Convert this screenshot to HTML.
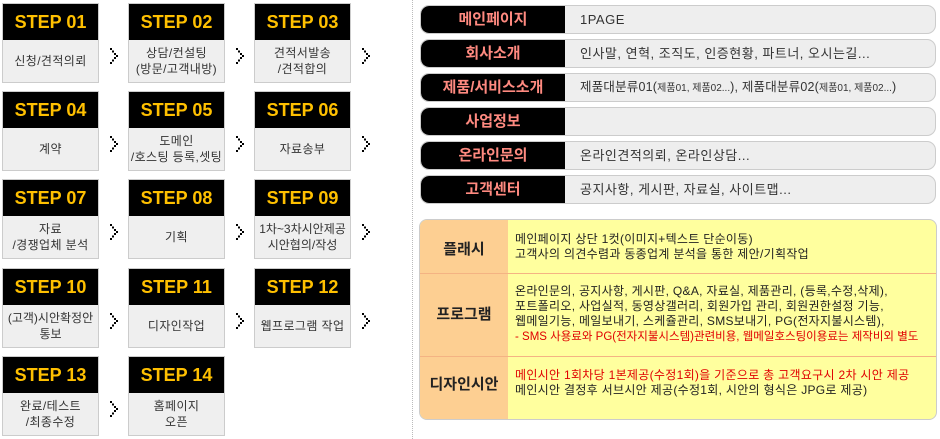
<!DOCTYPE html>
<html><head><meta charset="utf-8"><style>
*{margin:0;padding:0;box-sizing:border-box}
body{width:940px;height:439px;background:#fff;position:relative;overflow:hidden;font-family:"Liberation Sans","Noto Sans CJK KR",sans-serif}
.s{position:absolute;width:97px;height:80px;border:1px solid #ccc;background:#efefef}
.s .h{height:36px;background:#000;color:#ffc000;font-weight:bold;font-size:18px;text-align:center;line-height:36px}
.s .b{height:42px;display:flex;align-items:center;justify-content:center;text-align:center;font-size:12px;color:#333;line-height:16px;letter-spacing:0.4px;white-space:nowrap}
.div{position:absolute;left:412px;top:0;height:439px;border-left:1px dotted #bbb}
.p{position:absolute;left:420px;width:516px;height:29px;border:1px solid #ccc;border-radius:9px;background:#eee;overflow:hidden}
.p .k{position:absolute;left:0;top:0;width:144px;height:100%;background:#000;color:#ff8a80;font-weight:bold;font-size:15px;text-align:center;line-height:27px;border-radius:8px 0 0 8px}
.p .v{position:absolute;left:159px;top:0;line-height:27px;font-size:13px;letter-spacing:0.5px;color:#333;white-space:nowrap}
.p .v small{font-size:10px;letter-spacing:0}
.y{position:absolute;left:419px;top:219px;width:518px;height:201px;border:1px solid #ccc;border-radius:8px;background:#ffff9e;overflow:hidden}
.y .c{position:absolute;left:0;top:0;width:88px;height:100%;background:#fdcf92}
.r{position:absolute;left:0;width:100%;border-bottom:1px solid #f4b383}
.r .k{position:absolute;left:0;width:88px;text-align:center;font-weight:bold;font-size:15px;color:#222}
.r .t{position:absolute;left:95px;font-size:12px;letter-spacing:0.3px;color:#222;line-height:15px;white-space:nowrap}
.red{color:#e00000}
</style></head><body>
<div class="s" style="left:2px;top:3px"><div class="h">STEP 01</div><div class="b">신청/견적의뢰</div></div>
<div class="s" style="left:128px;top:3px"><div class="h">STEP 02</div><div class="b">상담/컨설팅<br>(방문/고객내방)</div></div>
<div class="s" style="left:254px;top:3px"><div class="h">STEP 03</div><div class="b">견적서발송<br>/견적합의</div></div>
<div class="s" style="left:2px;top:91px"><div class="h">STEP 04</div><div class="b">계약</div></div>
<div class="s" style="left:128px;top:91px"><div class="h">STEP 05</div><div class="b">도메인<br>/호스팅 등록,셋팅</div></div>
<div class="s" style="left:254px;top:91px"><div class="h">STEP 06</div><div class="b">자료송부</div></div>
<div class="s" style="left:2px;top:179px"><div class="h">STEP 07</div><div class="b">자료<br>/경쟁업체 분석</div></div>
<div class="s" style="left:128px;top:179px"><div class="h">STEP 08</div><div class="b">기획</div></div>
<div class="s" style="left:254px;top:179px"><div class="h">STEP 09</div><div class="b" style="letter-spacing:0">1차~3차시안제공<br>시안협의/작성</div></div>
<div class="s" style="left:2px;top:268px"><div class="h">STEP 10</div><div class="b" style="letter-spacing:0">(고객)시안확정안<br>통보</div></div>
<div class="s" style="left:128px;top:268px"><div class="h">STEP 11</div><div class="b">디자인작업</div></div>
<div class="s" style="left:254px;top:268px"><div class="h">STEP 12</div><div class="b">웹프로그램 작업</div></div>
<div class="s" style="left:2px;top:356px"><div class="h">STEP 13</div><div class="b">완료/테스트<br>/최종수정</div></div>
<div class="s" style="left:128px;top:356px"><div class="h">STEP 14</div><div class="b">홈페이지<br>오픈</div></div>

<svg width="410" height="439" style="position:absolute;left:0;top:0">
<defs><g id="a" fill="#000"><rect x="0" y="0" width="2" height="2"/><rect x="2" y="2.5" width="2" height="2"/><rect x="4" y="5" width="2" height="2"/><rect x="6" y="7" width="2" height="2"/><rect x="4" y="9" width="2" height="2"/><rect x="2" y="11.5" width="2" height="2"/><rect x="0" y="14" width="2" height="2"/></g></defs>
<use href="#a" x="110" y="48"/><use href="#a" x="236" y="48"/><use href="#a" x="362" y="48"/>
<use href="#a" x="110" y="136"/><use href="#a" x="236" y="136"/><use href="#a" x="362" y="136"/>
<use href="#a" x="110" y="224"/><use href="#a" x="236" y="224"/><use href="#a" x="362" y="224"/>
<use href="#a" x="110" y="313"/><use href="#a" x="236" y="313"/><use href="#a" x="362" y="313"/>
<use href="#a" x="110" y="401"/>
</svg>
<div class="div"></div>

<div class="p" style="top:5px"><div class="k">메인페이지</div><div class="v">1PAGE</div></div>
<div class="p" style="top:39px"><div class="k">회사소개</div><div class="v">인사말, 연혁, 조직도, 인증현황, 파트너, 오시는길...</div></div>
<div class="p" style="top:73px"><div class="k">제품/서비스소개</div><div class="v" style="font-size:12.5px;letter-spacing:0.2px">제품대분류01(<small>제품01, 제품02...</small>), 제품대분류02(<small>제품01, 제품02...</small>)</div></div>
<div class="p" style="top:107px"><div class="k">사업정보</div><div class="v"></div></div>
<div class="p" style="top:141px"><div class="k">온라인문의</div><div class="v">온라인견적의뢰, 온라인상담...</div></div>
<div class="p" style="top:175px"><div class="k">고객센터</div><div class="v">공지사항, 게시판, 자료실, 사이트맵...</div></div>

<div class="y"><div class="c"></div>
<div class="r" style="top:0;height:54px"><div class="k" style="top:18px">플래시</div><div class="t" style="top:12px">메인페이지 상단 1컷(이미지+텍스트 단순이동)<br>고객사의 의견수렴과 동종업계 분석을 통한 제안/기획작업</div></div>
<div class="r" style="top:54px;height:83px"><div class="k" style="top:29px">프로그램</div><div class="t" style="top:10px">온라인문의, 공지사항, 게시판, Q&amp;A, 자료실, 제품관리, (등록,수정,삭제),<br>포트폴리오, 사업실적, 동영상갤러리, 회원가입 관리, 회원권한설정 기능,<br>웹메일기능, 메일보내기, 스케쥴관리, SMS보내기, PG(전자지불시스템),<br><span class="red" style="letter-spacing:0;font-size:11.5px">- SMS 사용료와 PG(전자지불시스템)관련비용, 웹메일호스팅이용료는 제작비외 별도</span></div></div>
<div class="r" style="top:137px;height:64px;border:none"><div class="k" style="top:16px">디자인시안</div><div class="t" style="top:11px"><span class="red">메인시안 1회차당 1본제공(수정1회)을 기준으로 총 고객요구시 2차 시안 제공</span><br>메인시안 결정후 서브시안 제공(수정1회, 시안의 형식은 JPG로 제공)</div></div>
</div>
</body></html>
